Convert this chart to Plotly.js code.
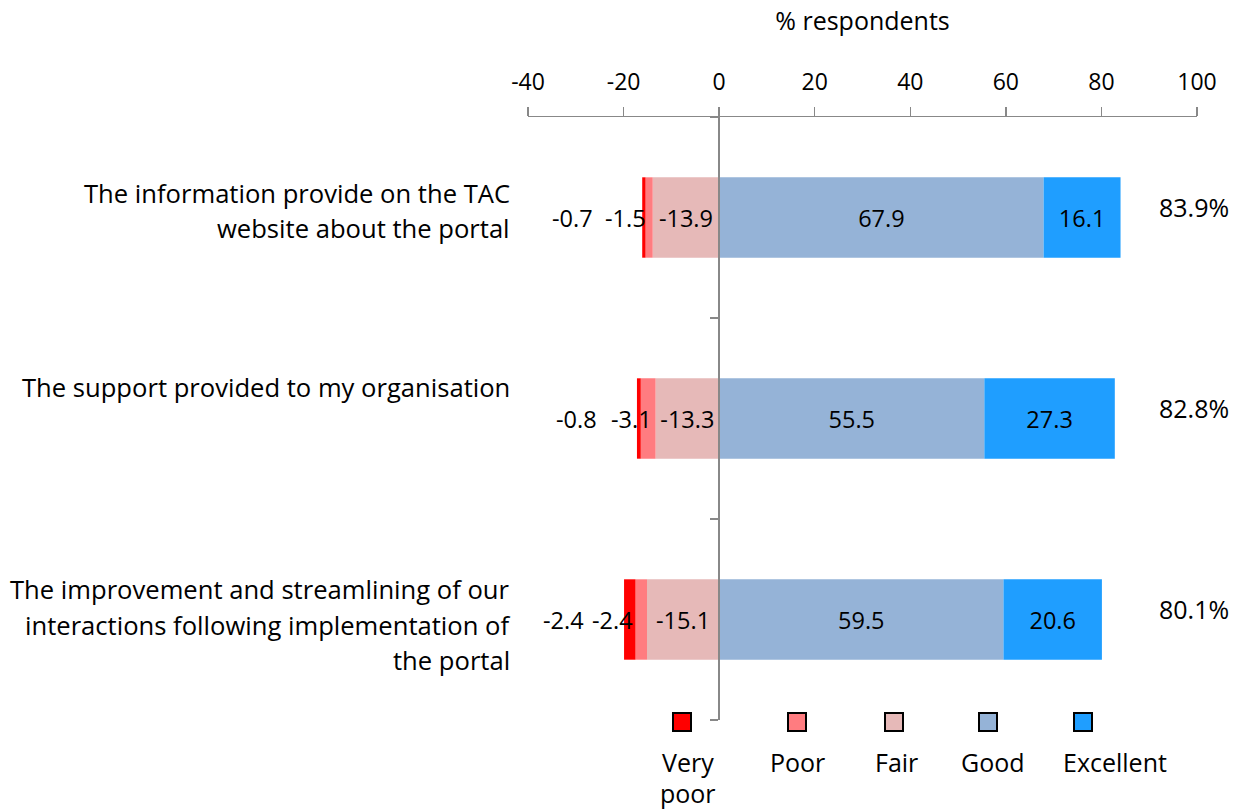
<!DOCTYPE html>
<html><head><meta charset="utf-8">
<script src="https://cdn.plot.ly/plotly-3.0.1.min.js"></script>
<style>html,body{margin:0;padding:0;background:#fff}#chart{width:1240px;height:810px}</style>
</head><body><div id="chart"></div>
<script>
// ---- data ----
const categories = ["The information provide on the TAC<br>website about the portal",
                    "The support provided to my organisation",
                    "The improvement and streamlining of our<br>interactions following implementation of<br>the portal"];
const veryPoor  = [-0.7, -0.8, -2.4];
const poor      = [-1.5, -3.1, -2.4];
const fair      = [-13.9, -13.3, -15.1];
const good      = [67.9, 55.5, 59.5];
const excellent = [16.1, 27.3, 20.6];
const totals    = ["83.9%", "82.8%", "80.1%"];
const seriesNames = ["Very poor", "Poor", "Fair", "Good", "Excellent"];
const legendLabels = ["Very<br>poor", "Poor", "Fair", "Good", "Excellent"];
const xTicks = [-40, -20, 0, 20, 40, 60, 80, 100];

// ---- style / placement ----
const colors = {"Very poor": "#FF0000", "Poor": "#FF7C80", "Fair": "#E6B9B8", "Good": "#95B3D7", "Excellent": "#1F9EFF"};
const FONT = "'Open Sans', Lato, sans-serif";
const axisGray = "#888888";
const W = 1240, H = 810, L = 528, R = 43, T = 117, B = 90;
const pw = W - L - R, ph = H - T - B;
const px2x = p => (p - L) / pw;
const py2y = p => (H - B - p) / ph;
const txtNum = {family: FONT, size: 23.5, color: '#000'};
const txtTick = {family: FONT, size: 23, color: '#000'};
const txtBig = {family: FONT, size: 25, color: '#000'};
const txtCat = {family: FONT, size: 25.6, color: '#000'};
// label offsets (px) from bar's left end for small outside labels
const poorLabelShift = [-17, -5, -12];
const vpLabelShift = [-70, -60, -61];
// vertical offsets (px, up positive) of category label blocks
const catShift = [6.5, 31, -5.5];
const lineH = 35.5;
const legendSquareX = [682, 797, 894, 988, 1083];
const legendLabelX = [688, 797, 896, 993, 1115];

const yIdx = categories.map((c, i) => i);
function barTrace(name, vals, showText) {
  return {
    type: 'bar', orientation: 'h', name: name, x: vals, y: yIdx,
    width: 0.4,
    marker: {color: colors[name], line: {width: 0}},
    text: showText ? vals.map(v => v.toFixed(1)) : undefined,
    textposition: showText ? 'inside' : 'none',
    insidetextanchor: 'middle',
    textangle: 0,
    textfont: txtNum,
    hoverinfo: 'skip', showlegend: false, cliponaxis: false
  };
}
const data = [
  barTrace("Fair", fair, true),
  barTrace("Poor", poor, false),
  barTrace("Very poor", veryPoor, false),
  barTrace("Good", good, true),
  barTrace("Excellent", excellent, true)
];

const annotations = [];
const shapes = [];
// category labels (one annotation per line)
categories.forEach((c, i) => {
  const lines = c.split("<br>");
  lines.forEach((ln, k) => {
    annotations.push({xref: 'paper', yref: 'y', x: 0, y: i, xanchor: 'right', yanchor: 'middle',
      xshift: -16, yshift: catShift[i] + ((lines.length - 1) / 2 - k) * lineH, text: ln, showarrow: false,
      font: txtCat});
  });
});
// outside labels for Very poor / Poor, and totals
categories.forEach((c, i) => {
  const leftEdge = veryPoor[i] + poor[i] + fair[i];
  annotations.push({xref: 'x', yref: 'y', x: leftEdge, y: i, xanchor: 'center', yanchor: 'middle',
    xshift: poorLabelShift[i], text: poor[i].toFixed(1), showarrow: false, font: txtNum});
  annotations.push({xref: 'x', yref: 'y', x: leftEdge, y: i, xanchor: 'center', yanchor: 'middle',
    xshift: vpLabelShift[i], text: veryPoor[i].toFixed(1), showarrow: false, font: txtNum});
  annotations.push({xref: 'paper', yref: 'y', x: 1, y: i, xanchor: 'center', yanchor: 'middle',
    xshift: -3, yshift: 11, text: totals[i], showarrow: false, font: txtBig});
});
// custom legend
seriesNames.forEach((n, k) => {
  const cx = legendSquareX[k];
  shapes.push({type: 'rect', xref: 'paper', yref: 'paper',
    x0: px2x(cx - 9), x1: px2x(cx + 9), y0: py2y(731), y1: py2y(713),
    fillcolor: colors[n], line: {color: '#000', width: 2}});
  legendLabels[k].split("<br>").forEach((ln, j) => {
    annotations.push({xref: 'paper', yref: 'paper', x: px2x(legendLabelX[k]), y: py2y(762 + j * 31),
      xanchor: 'center', yanchor: 'middle', text: ln, showarrow: false, font: txtBig});
  });
});

const layout = {
  width: W, height: H,
  margin: {l: L, r: R, t: T, b: B, pad: 0},
  paper_bgcolor: '#fff', plot_bgcolor: '#fff',
  barmode: 'relative',
  font: txtTick,
  xaxis: {
    side: 'top', range: [-40, 100], tickmode: 'array', tickvals: xTicks, ticktext: xTicks.map(String),
    showgrid: false, zeroline: false, showline: true, linecolor: axisGray, linewidth: 1.5,
    ticks: 'outside', ticklen: 9, tickwidth: 1.5, tickcolor: axisGray,
    tickfont: txtTick,
    ticklabelstandoff: 7,
    title: {text: '% respondents', font: txtBig, standoff: 27},
    fixedrange: true
  },
  yaxis: {
    type: 'linear', range: [2.5, -0.5], anchor: 'free', position: 40 / 140,
    tickmode: 'array', tickvals: [-0.5, 0.5, 1.5, 2.5], showticklabels: false,
    showgrid: false, zeroline: false, showline: true, linecolor: axisGray, linewidth: 2,
    ticks: 'outside', ticklen: 8, tickwidth: 1.5, tickcolor: axisGray, fixedrange: true
  },
  shapes: shapes,
  annotations: annotations,
  showlegend: false
};
Plotly.newPlot('chart', data, layout, {displayModeBar: false, staticPlot: true});
</script></body></html>
